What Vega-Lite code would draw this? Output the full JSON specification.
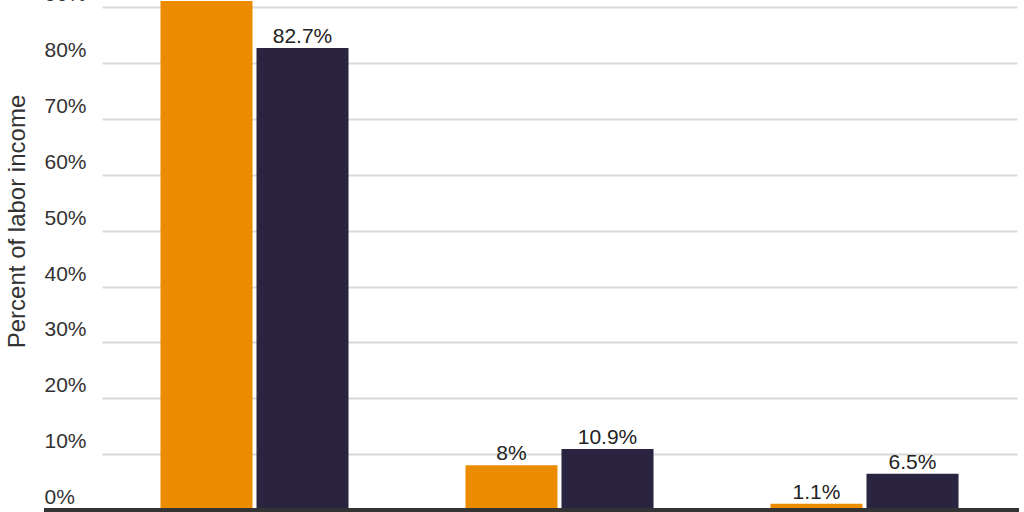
{
  "$schema": "https://vega.github.io/schema/vega-lite/v6.json",
  "autosize": "none",
  "width": 975,
  "height": 510,
  "padding": {"left": 44, "top": 0, "right": 5, "bottom": 2},
  "background": "white",
  "config": {
    "view": {"stroke": null},
    "font": "Liberation Sans"
  },
  "data": {
    "values": [
      {"category": "Category 1", "group": "Group A", "value": 91.1, "label": "91.1%"},
      {"category": "Category 1", "group": "Group B", "value": 82.7, "label": "82.7%"},
      {"category": "Category 2", "group": "Group A", "value": 8.0, "label": "8%"},
      {"category": "Category 2", "group": "Group B", "value": 10.9, "label": "10.9%"},
      {"category": "Category 3", "group": "Group A", "value": 1.1, "label": "1.1%"},
      {"category": "Category 3", "group": "Group B", "value": 6.5, "label": "6.5%"}
    ]
  },
  "encoding": {
    "x": {
      "field": "category",
      "type": "nominal",
      "sort": null,
      "scale": {"range": [58, 973], "paddingInner": 0, "paddingOuter": 0},
      "axis": null
    },
    "xOffset": {
      "field": "group",
      "type": "nominal",
      "sort": null,
      "scale": {"paddingInner": 0.0417, "paddingOuter": 0.609}
    },
    "y": {
      "field": "value",
      "type": "quantitative",
      "scale": {"domain": [0, 91.3], "nice": false, "zero": true},
      "axis": {
        "title": "Percent of labor income",
        "titleFont": "Liberation Sans",
        "titleFontSize": 24,
        "titleFontWeight": "normal",
        "titleColor": "#333333",
        "titleAngle": -90,
        "titleAlign": "center",
        "titleBaseline": "middle",
        "titleX": -27,
        "titleY": 221,
        "values": [0, 10, 20, 30, 40, 50, 60, 70, 80, 90],
        "labelExpr": "datum.value + '%'",
        "labelFont": "Liberation Sans",
        "labelFontSize": 21,
        "labelColor": "#333333",
        "labelAlign": "left",
        "labelBaseline": "alphabetic",
        "labelPadding": 0,
        "labelOffset": -6.5,
        "labelFlush": false,
        "labelOverlap": false,
        "ticks": false,
        "tickSize": 0,
        "domain": false,
        "grid": true,
        "gridColor": "#d9d9d9",
        "gridWidth": 2
      }
    }
  },
  "layer": [
    {
      "mark": {"type": "bar"},
      "encoding": {
        "color": {
          "field": "group",
          "type": "nominal",
          "sort": null,
          "scale": {"domain": ["Group A", "Group B"], "range": ["#EB8C00", "#2A2440"]},
          "legend": null
        }
      }
    },
    {
      "mark": {
        "type": "text",
        "dy": -5,
        "baseline": "alphabetic",
        "align": "center",
        "fontSize": 21,
        "font": "Liberation Sans",
        "color": "#222222"
      },
      "encoding": {
        "text": {"field": "label", "type": "nominal"}
      }
    },
    {
      "mark": {"type": "rule", "color": "#333333", "strokeWidth": 3},
      "encoding": {
        "y": {"datum": 0, "type": "quantitative"},
        "x": null,
        "xOffset": null
      }
    }
  ]
}
